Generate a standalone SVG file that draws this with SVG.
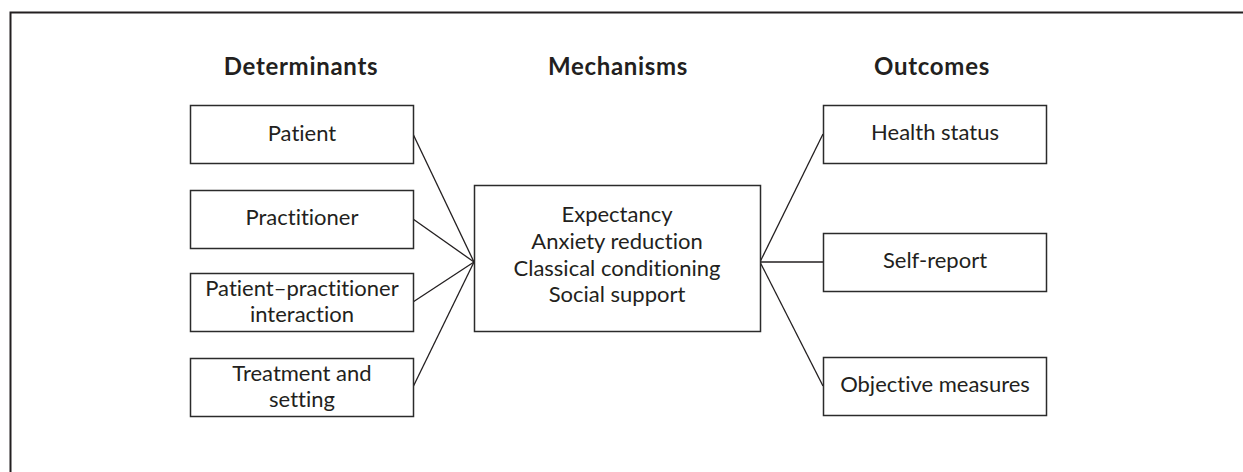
<svg xmlns="http://www.w3.org/2000/svg" width="1243" height="472" viewBox="0 0 1243 472">
<style>
.box{fill:#fff;stroke:#2b2b2b;stroke-width:1.5}
.t{font-family:"Lato","Open Sans","Liberation Sans",sans-serif;font-size:22px;fill:#231f20;text-anchor:middle;font-variant-ligatures:none}
.h{font-family:"Lato","Open Sans","Liberation Sans",sans-serif;font-size:24px;font-weight:bold;letter-spacing:0.7px;fill:#231f20;text-anchor:middle;font-variant-ligatures:none}
.c{stroke:#231f20;stroke-width:1.3;fill:none}
</style>
<rect width="1243" height="472" fill="#fff"/>
<path d="M10.5,472 V12.5 H1243" fill="none" stroke="#231f20" stroke-width="2"/>
<g id="headings">
<text class="h" x="301" y="75">Determinants</text>
<text class="h" x="618" y="75">Mechanisms</text>
<text class="h" x="932" y="75">Outcomes</text>
</g>
<g id="connectors">
<line class="c" x1="413" y1="134" x2="474" y2="262"/>
<line class="c" x1="413" y1="219" x2="474" y2="262"/>
<line class="c" x1="413" y1="302" x2="474" y2="262"/>
<line class="c" x1="413" y1="387" x2="474" y2="262"/>
<line class="c" x1="760" y1="262" x2="823" y2="134"/>
<line class="c" x1="760" y1="262" x2="823" y2="262"/>
<line class="c" x1="760" y1="262" x2="823" y2="386"/>
</g>
<g id="patient">
<rect class="box" x="190.5" y="105.5" width="223" height="58"/>
<text class="t" x="302" y="141">Patient</text>
</g>
<g id="practitioner">
<rect class="box" x="190.5" y="190.5" width="223" height="58"/>
<text class="t" x="302" y="225">Practitioner</text>
</g>
<g id="interaction">
<rect class="box" x="190.5" y="273.5" width="223" height="58"/>
<text class="t" x="302" y="296">Patient–practitioner</text>
<text class="t" x="302" y="322">interaction</text>
</g>
<g id="treatment">
<rect class="box" x="190.5" y="358.5" width="223" height="58"/>
<text class="t" x="302" y="381">Treatment and</text>
<text class="t" x="302" y="407">setting</text>
</g>
<g id="mechanisms">
<rect class="box" x="474.5" y="185.5" width="286" height="146"/>
<text class="t" x="617" y="222">Expectancy</text>
<text class="t" x="617" y="249">Anxiety reduction</text>
<text class="t" x="617" y="276">Classical conditioning</text>
<text class="t" x="617" y="302">Social support</text>
</g>
<g id="health">
<rect class="box" x="823.5" y="105.5" width="223" height="58"/>
<text class="t" x="935" y="140">Health status</text>
</g>
<g id="selfreport">
<rect class="box" x="823.5" y="233.5" width="223" height="58"/>
<text class="t" x="935" y="268">Self-report</text>
</g>
<g id="objective">
<rect class="box" x="823.5" y="357.5" width="223" height="58"/>
<text class="t" x="935" y="392">Objective measures</text>
</g>
</svg>
